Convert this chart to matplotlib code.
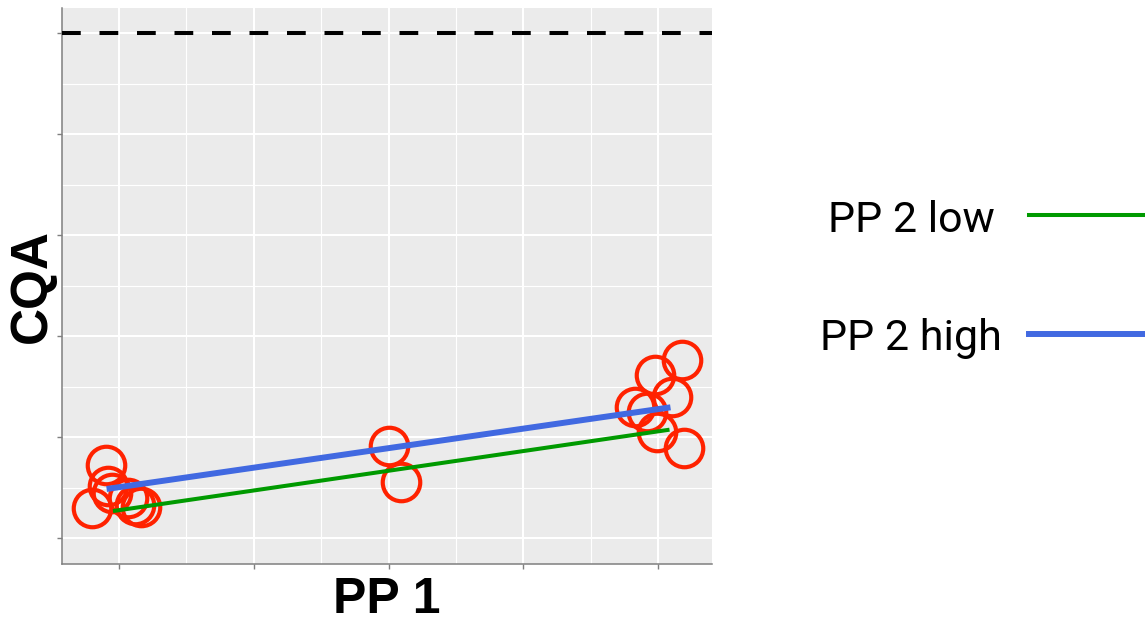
import matplotlib.pyplot as plt
from matplotlib.lines import Line2D

pp1 = [-0.10, -0.08, -0.05, -0.20, 0.07, 0.12, 0.16,
       2.00, 2.09,
       4.18, 3.98, 4.10, 3.83, 3.92, 3.99, 4.19]
cqa = [0.72, 0.52, 0.45, 0.30, 0.40, 0.33, 0.31,
       0.91, 0.55,
       1.76, 1.61, 1.40, 1.30, 1.25, 1.05, 0.89]

# fitted lines
fit_x_low = [-0.03, 4.07]
fit_y_low = [0.27, 1.07]
fit_x_high = [-0.07, 4.07]
fit_y_high = [0.49, 1.29]

limit = 5.0
legend_labels = ["PP 2 low", "PP 2 high"]

W, H = 1145, 624
fig = plt.figure(figsize=(W / 100, H / 100), dpi=100)
ax = fig.add_axes([62 / W, 1 - 564 / H, 650 / W, 556 / H])
ax.set_facecolor("#ebebeb")

ax.set_xticks([0, 1, 2, 3, 4])
ax.set_xticks([0.5, 1.5, 2.5, 3.5], minor=True)
ax.set_yticks([0, 1, 2, 3, 4, 5])
ax.set_yticks([0.5, 1.5, 2.5, 3.5, 4.5], minor=True)
# limits after ticks, set_ticks would widen them otherwise
ax.set_xlim(-0.423, 4.40)
ax.set_ylim(-0.257, 5.248)
ax.set_xticklabels([])
ax.set_yticklabels([])
ax.grid(which="major", color="white", lw=1.5)
ax.grid(which="minor", color="white", lw=0.8)
ax.set_axisbelow(True)
ax.tick_params(which="major", length=3.6, width=1, color="#7f7f7f")
ax.tick_params(which="minor", length=0)
for s in ["top", "right"]:
    ax.spines[s].set_visible(False)
for s in ["left", "bottom"]:
    ax.spines[s].set_color("#7f7f7f")
    ax.spines[s].set_linewidth(1.1)

plt.rcParams["lines.scale_dashes"] = False
ax.axhline(limit, color="black", lw=2.9, dashes=(13.5, 13.5), zorder=3)

ax.plot(pp1, cqa, "o", ms=27, mfc="none", mec="#ff2200", mew=3.0, zorder=4)
ax.plot(fit_x_low, fit_y_low, color="#009a00", lw=2.9, zorder=5)
ax.plot(fit_x_high, fit_y_high, color="#4169e1", lw=4.3, zorder=6)

fig.text(32 / W, 1 - 286 / H, "CQA", rotation=90, ha="center", va="center",
         fontsize=37, fontweight="bold", family="Liberation Sans")
fig.text(387 / W, 1 - 613 / H, "PP 1", ha="center", va="baseline",
         fontsize=36, fontweight="bold", family="Liberation Sans")

# legend drawn by hand: label on the left, key running off the right edge
keys = [("#009a00", 2.9, 232, 215), ("#4169e1", 4.3, 350, 334)]
for lab, (col, lw, base, ly) in zip(legend_labels, keys):
    fig.text(911 / W, 1 - base / H, lab, ha="center", va="baseline",
             fontsize=31, family="Roboto")
    fig.add_artist(Line2D([1029 / W, 1.0], [1 - ly / H, 1 - ly / H],
                          color=col, lw=lw, transform=fig.transFigure))

fig.savefig("out.png", dpi=100)
